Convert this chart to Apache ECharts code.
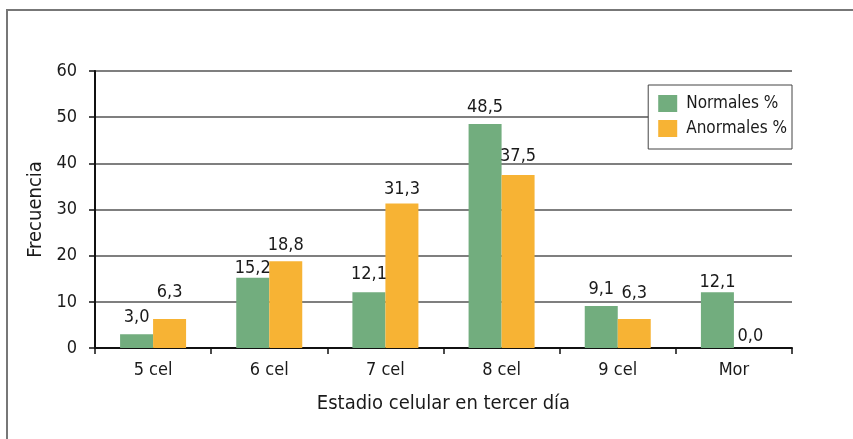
<!DOCTYPE html>
<html><head><meta charset="utf-8">
<script src="https://cdn.jsdelivr.net/npm/echarts@6/dist/echarts.min.js"></script>
<style>html,body{margin:0;padding:0;background:#fff}#c{width:853px;height:439px}</style>
</head><body><div id="c"></div>
<script>
var categories = ['5 cel', '6 cel', '7 cel', '8 cel', '9 cel', 'Mor'];
var normales = [3.0, 15.2, 12.1, 48.5, 9.1, 12.1];
var anormales = [6.3, 18.8, 31.3, 37.5, 6.3, 0.0];
var yTicks = [0, 10, 20, 30, 40, 50, 60];
// label gap above each bar (style, as placed in the original)
var labelGapN = [7.5, 0, 8.5, 8, 7.5, 1];
var labelGapA = [17.5, 7, 5, 10, 17, 3];
var FONT = '"DejaVu Sans Condensed", "Liberation Sans", sans-serif';
var TXT = '#1a1a1a';
function fmt(p){ return p.value.toFixed(1).replace('.', ','); }
function items(vals, gaps){
  return vals.map(function(v, i){ return {value: v, label: {distance: gaps[i]}}; });
}
var chart = echarts.init(document.getElementById('c'), null, {renderer:'canvas'});
chart.setOption({
  animation: false,
  textStyle: {fontFamily: FONT, color: TXT},
  graphic: [{type:'rect', shape:{x:7, y:10, width:900, height:500}, style:{fill:'none', stroke:'#777', lineWidth:2}, z:-1}],
  grid: {left: 95, right: 61, top: 71, bottom: 91, containLabel: false},
  legend: {
    right: 61, top: 85, orient: 'vertical', itemWidth: 19, itemHeight: 17, itemGap: 8,
    padding: [10, 5, 12, 10], borderColor: '#444', borderWidth: 1, backgroundColor: '#fff',
    icon: 'rect',
    textStyle: {fontFamily: FONT, fontSize: 17, color: TXT, padding: [0,0,0,4]},
    data: ['Normales %', 'Anormales %']
  },
  xAxis: {
    type: 'category', data: categories,
    axisLine: {lineStyle: {color: '#111', width: 2}},
    axisTick: {show: true, alignWithLabel: false, length: 6, lineStyle: {color: '#111', width: 1.5}},
    axisLabel: {fontFamily: FONT, fontSize: 18, color: TXT, margin: 13},
    name: 'Estadio celular en tercer día', nameLocation: 'middle', nameGap: 46,
    nameTextStyle: {fontFamily: FONT, fontSize: 20, color: TXT}
  },
  yAxis: {
    type: 'value', min: 0, max: 60, interval: 10,
    axisLine: {show: true, lineStyle: {color: '#111', width: 2}},
    axisTick: {show: true, length: 6, lineStyle: {color: '#111', width: 1.5}},
    axisLabel: {fontFamily: FONT, fontSize: 18, color: TXT, margin: 18},
    splitLine: {lineStyle: {color: '#555', width: 1.5}},
    name: 'Frecuencia', nameLocation: 'middle', nameGap: 43, nameRotate: 90,
    nameTextStyle: {fontFamily: FONT, fontSize: 20, color: TXT}
  },
  series: [
    {name: 'Normales %', type: 'bar', data: items(normales, labelGapN), barWidth: 33, barGap: '0%',
     itemStyle: {color: '#72AD7E'},
     label: {show: true, position: 'top', formatter: fmt, fontFamily: FONT, fontSize: 18, color: TXT}},
    {name: 'Anormales %', type: 'bar', data: items(anormales, labelGapA), barWidth: 33, barGap: '0%',
     itemStyle: {color: '#F7B334'},
     label: {show: true, position: 'top', formatter: fmt, fontFamily: FONT, fontSize: 18, color: TXT}}
  ]
});
</script></body></html>
